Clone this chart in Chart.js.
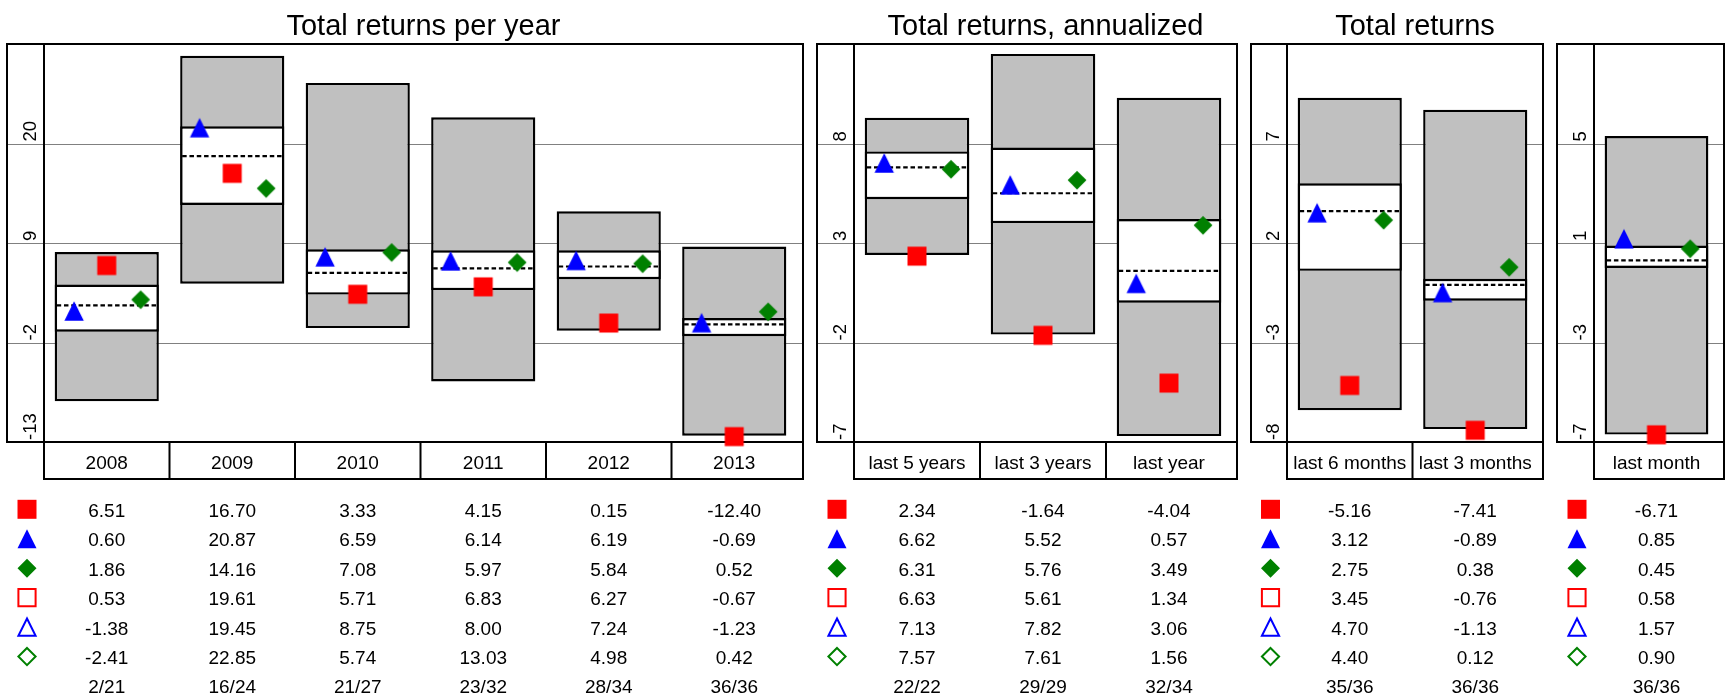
<!DOCTYPE html>
<html>
<head>
<meta charset="utf-8">
<script src="https://cdn.jsdelivr.net/npm/chart.js@4/dist/chart.umd.min.js"></script>
<style>
  body { margin: 0; background: #fff; }
  #wrap { position: relative; width: 1731px; height: 698px; }
  #wrap canvas { position: absolute; left: 0; top: 0; }
</style>
</head>
<body>
<div id="wrap">
  <canvas id="c1" width="1731" height="698"></canvas>
  <canvas id="c2" width="1731" height="698"></canvas>
  <canvas id="c3" width="1731" height="698"></canvas>
  <canvas id="c4" width="1731" height="698"></canvas>
</div>
<script>
// ---- data: total returns per year ----
const yearLabels = ["2008", "2009", "2010", "2011", "2012", "2013"];
const yearRed = [6.51, 16.70, 3.33, 4.15, 0.15, -12.40];
const yearBlue = [0.60, 20.87, 6.59, 6.14, 6.19, -0.69];
const yearGreen = [1.86, 14.16, 7.08, 5.97, 5.84, 0.52];
const yearRedOpen = [0.53, 19.61, 5.71, 6.83, 6.27, -0.67];
const yearBlueOpen = [-1.38, 19.45, 8.75, 8.00, 7.24, -1.23];
const yearGreenOpen = [-2.41, 22.85, 5.74, 13.03, 4.98, 0.42];
const yearRank = ["2/21", "16/24", "21/27", "23/32", "28/34", "36/36"];
const yearLow = [-8.5, 4.5, -0.4, -6.3, -0.7, -12.3];
const yearHigh = [8.0, 29.7, 26.7, 22.9, 12.5, 8.6];
const yearQ1 = [-0.8, 13.2, 3.3, 3.8, 5.0, -1.3];
const yearQ3 = [4.4, 21.9, 8.3, 8.2, 8.2, 0.7];
const yearMedian = [2.1, 18.6, 5.7, 6.2, 6.4, 0.0];
const yearTicks = [-13, -2, 9, 20];

// ---- data: total returns, annualized ----
const annLabels = ["last 5 years", "last 3 years", "last year"];
const annRed = [2.34, -1.64, -4.04];
const annBlue = [6.62, 5.52, 0.57];
const annGreen = [6.31, 5.76, 3.49];
const annRedOpen = [6.63, 5.61, 1.34];
const annBlueOpen = [7.13, 7.82, 3.06];
const annGreenOpen = [7.57, 7.61, 1.56];
const annRank = ["22/22", "29/29", "32/34"];
const annLow = [2.4, -1.6, -6.7];
const annHigh = [9.3, 12.5, 10.3];
const annQ1 = [5.2, 4.0, 0.0];
const annQ3 = [7.6, 7.8, 4.2];
const annMedian = [6.8, 5.5, 1.6];
const annTicks = [-7, -2, 3, 8];

// ---- data: total returns (months) ----
const monLabels = ["last 6 months", "last 3 months"];
const monRed = [-5.16, -7.41];
const monBlue = [3.12, -0.89];
const monGreen = [2.75, 0.38];
const monRedOpen = [3.45, -0.76];
const monBlueOpen = [4.70, -1.13];
const monGreenOpen = [4.40, 0.12];
const monRank = ["35/36", "36/36"];
const monLow = [-6.4, -7.35];
const monHigh = [9.3, 8.7];
const monQ1 = [0.6, -0.9];
const monQ3 = [5.0, 0.2];
const monMedian = [3.6, -0.1];
const monTicks = [-8, -3, 2, 7];

// ---- data: last month ----
const lastLabels = ["last month"];
const lastRed = [-6.71];
const lastBlue = [0.85];
const lastGreen = [0.45];
const lastRedOpen = [0.58];
const lastBlueOpen = [1.57];
const lastGreenOpen = [0.90];
const lastRank = ["36/36"];
const lastLow = [-6.7];
const lastHigh = [5.3];
const lastQ1 = [0.0];
const lastQ3 = [0.9];
const lastMedian = [0.3];
const lastTicks = [-7, -3, 1, 5];

const RED = "#ff0000", BLUE = "#0000ff", GREEN = "#008000";
const FONT = "'Liberation Sans', Arial, sans-serif";
const TOP = 44, BOTTOM = 442, CAT_BOTTOM = 479;
Chart.defaults.font.family = FONT;

// point styles; triangle and diamond sit just above their value, as in the original
function pointImage(kind, color) {
  const c = document.createElement("canvas");
  c.width = 22;
  c.height = 40;
  const g = c.getContext("2d");
  g.fillStyle = color;
  g.beginPath();
  if (kind === "square") {
    g.rect(1.5, 10.5, 19, 19);
  } else if (kind === "triangle") {
    g.moveTo(11, 2.3);
    g.lineTo(20.7, 21.7);
    g.lineTo(1.3, 21.7);
  } else {
    g.moveTo(11, 2.7);
    g.lineTo(20.4, 12.1);
    g.lineTo(11, 21.5);
    g.lineTo(1.6, 12.1);
  }
  g.closePath();
  g.fill();
  return c;
}
const squareImg = pointImage("square", RED);
const triangleImg = pointImage("triangle", BLUE);
const diamondImg = pointImage("diamond", GREEN);

// legend keys in the table under each panel
function drawKey(ctx, kind, color, filled, cx, cy) {
  const s = filled ? 9.5 : 8.6;
  ctx.beginPath();
  if (kind === "square") {
    ctx.rect(cx - s, cy - s, 2 * s, 2 * s);
  } else if (kind === "triangle") {
    ctx.moveTo(cx, cy - s);
    ctx.lineTo(cx + s, cy + s);
    ctx.lineTo(cx - s, cy + s);
    ctx.closePath();
  } else {
    ctx.moveTo(cx, cy - s);
    ctx.lineTo(cx + s, cy);
    ctx.lineTo(cx, cy + s);
    ctx.lineTo(cx - s, cy);
    ctx.closePath();
  }
  if (filled) {
    ctx.fillStyle = color;
    ctx.fill();
  } else {
    ctx.strokeStyle = color;
    ctx.lineWidth = 2;
    ctx.stroke();
  }
}

function makePanel(id, geo, d) {
  const n = d.labels.length;
  const rows = [
    ["square", RED, true, d.red],
    ["triangle", BLUE, true, d.blue],
    ["diamond", GREEN, true, d.green],
    ["square", RED, false, d.redOpen],
    ["triangle", BLUE, false, d.blueOpen],
    ["diamond", GREEN, false, d.greenOpen]
  ];

  const panelPlugin = {
    id: "panel" + id,
    beforeDatasetsDraw(chart) {
      const { ctx, chartArea: a, scales: { x, y } } = chart;
      const slot = (a.right - a.left) / n;
      ctx.save();
      // grid lines run across the tick column too
      ctx.strokeStyle = "#808080";
      ctx.lineWidth = 1;
      d.ticks.forEach(t => {
        const py = Math.round(y.getPixelForValue(t)) + 0.5;
        ctx.beginPath();
        ctx.moveTo(geo.frameLeft, py);
        ctx.lineTo(geo.frameRight, py);
        ctx.stroke();
      });
      // frame, tick column and category row
      ctx.strokeStyle = "#000";
      ctx.lineWidth = 2;
      ctx.strokeRect(geo.frameLeft, a.top, geo.frameRight - geo.frameLeft, a.bottom - a.top);
      ctx.strokeRect(a.left, a.bottom, geo.frameRight - a.left, CAT_BOTTOM - a.bottom);
      ctx.beginPath();
      ctx.moveTo(a.left, a.top);
      ctx.lineTo(a.left, a.bottom);
      for (let i = 0; i < n - 1; i++) {
        const px = x.getPixelForValue(i) + slot / 2;
        ctx.moveTo(px, a.bottom);
        ctx.lineTo(px, CAT_BOTTOM);
      }
      ctx.stroke();
      ctx.restore();
    },
    afterDatasetDraw(chart, args) {
      if (args.index !== 1) return; // dashed median on top of the white box
      const { ctx, scales: { y } } = chart;
      ctx.save();
      ctx.strokeStyle = "#000";
      ctx.lineWidth = 2.2;
      ctx.setLineDash([4.5, 2.8]);
      args.meta.data.forEach((bar, i) => {
        const py = y.getPixelForValue(d.median[i]);
        ctx.beginPath();
        ctx.moveTo(bar.x - bar.width / 2 + 2, py);
        ctx.lineTo(bar.x + bar.width / 2 - 2, py);
        ctx.stroke();
      });
      ctx.restore();
    },
    afterDraw(chart) {
      const { ctx, chartArea: a, scales: { x, y } } = chart;
      ctx.save();
      ctx.fillStyle = "#000";
      // title
      if (d.title) {
        ctx.font = "29px " + FONT;
        ctx.textAlign = "center";
        ctx.textBaseline = "alphabetic";
        ctx.fillText(d.title, (a.left + geo.frameRight) / 2, 34.5);
      }
      // rotated tick labels
      ctx.font = "18.5px " + FONT;
      ctx.textAlign = "left";
      d.ticks.forEach(t => {
        ctx.save();
        ctx.translate(a.left - 8.3, y.getPixelForValue(t) - 2);
        ctx.rotate(-Math.PI / 2);
        ctx.fillText(String(t), 0, 0);
        ctx.restore();
      });
      // category labels
      ctx.font = "19px " + FONT;
      ctx.textAlign = "center";
      d.labels.forEach((lab, i) => ctx.fillText(lab, x.getPixelForValue(i), 469.3));
      // table
      const keyX = (geo.frameLeft + a.left) / 2 + 1.5;
      rows.forEach((r, k) => {
        const base = 516.7 + k * 29.45;
        drawKey(ctx, r[0], r[1], r[2], keyX, base - 7.4);
        ctx.fillStyle = "#000";
        r[3].forEach((v, i) => ctx.fillText(v.toFixed(2), x.getPixelForValue(i), base));
      });
      d.rank.forEach((s, i) => ctx.fillText(s, x.getPixelForValue(i), 516.7 + 6 * 29.45));
      ctx.restore();
    }
  };

  const barStyle = {
    borderColor: "#000",
    borderWidth: 2.4,
    borderSkipped: false,
    grouped: false,
    barPercentage: 0.83,
    categoryPercentage: 1
  };

  new Chart(document.getElementById(id), {
    type: "bar",
    data: {
      labels: d.labels,
      datasets: [
        Object.assign({
          label: "range",
          data: d.low.map((v, i) => [v, d.high[i]]),
          backgroundColor: "#c0c0c0",
          order: 5
        }, barStyle),
        Object.assign({
          label: "middle",
          data: d.q1.map((v, i) => [v, d.q3[i]]),
          backgroundColor: "#ffffff",
          order: 4
        }, barStyle),
        {
          type: "scatter",
          xAxisID: "x2",
          data: d.red.map((v, i) => ({ x: i, y: v })),
          pointStyle: squareImg,
          pointRadius: 10,
          clip: false,
          order: 3
        },
        {
          type: "scatter",
          xAxisID: "x2",
          data: d.blue.map((v, i) => ({ x: i - 0.26, y: v })),
          pointStyle: triangleImg,
          pointRadius: 10,
          clip: false,
          order: 2
        },
        {
          type: "scatter",
          xAxisID: "x2",
          data: d.green.map((v, i) => ({ x: i + 0.27, y: v })),
          pointStyle: diamondImg,
          pointRadius: 10,
          clip: false,
          order: 1
        }
      ]
    },
    options: {
      responsive: false,
      animation: false,
      events: [],
      layout: { padding: { left: geo.div, right: 1731 - geo.boxRight, top: TOP, bottom: 698 - BOTTOM } },
      plugins: { legend: { display: false }, tooltip: { enabled: false } },
      scales: {
        x: { display: false, offset: true },
        x2: { type: "linear", display: false, offset: false, min: -0.5, max: n - 0.5 },
        y: { display: false, min: d.min, max: d.max }
      }
    },
    plugins: [panelPlugin]
  });
}

makePanel("c1", { frameLeft: 7, div: 44, boxRight: 797, frameRight: 803 }, {
  title: "Total returns per year", labels: yearLabels, ticks: yearTicks, min: -13, max: 31,
  red: yearRed, blue: yearBlue, green: yearGreen,
  redOpen: yearRedOpen, blueOpen: yearBlueOpen, greenOpen: yearGreenOpen, rank: yearRank,
  low: yearLow, high: yearHigh, q1: yearQ1, q3: yearQ3, median: yearMedian
});
makePanel("c2", { frameLeft: 817, div: 854, boxRight: 1232, frameRight: 1237 }, {
  title: "Total returns, annualized", labels: annLabels, ticks: annTicks, min: -7, max: 13,
  red: annRed, blue: annBlue, green: annGreen,
  redOpen: annRedOpen, blueOpen: annBlueOpen, greenOpen: annGreenOpen, rank: annRank,
  low: annLow, high: annHigh, q1: annQ1, q3: annQ3, median: annMedian
});
makePanel("c3", { frameLeft: 1251, div: 1287, boxRight: 1538, frameRight: 1543 }, {
  title: "Total returns", labels: monLabels, ticks: monTicks, min: -8, max: 12,
  red: monRed, blue: monBlue, green: monGreen,
  redOpen: monRedOpen, blueOpen: monBlueOpen, greenOpen: monGreenOpen, rank: monRank,
  low: monLow, high: monHigh, q1: monQ1, q3: monQ3, median: monMedian
});
makePanel("c4", { frameLeft: 1557, div: 1594, boxRight: 1719, frameRight: 1724 }, {
  title: "", labels: lastLabels, ticks: lastTicks, min: -7, max: 9,
  red: lastRed, blue: lastBlue, green: lastGreen,
  redOpen: lastRedOpen, blueOpen: lastBlueOpen, greenOpen: lastGreenOpen, rank: lastRank,
  low: lastLow, high: lastHigh, q1: lastQ1, q3: lastQ3, median: lastMedian
});
</script>
</body>
</html>
